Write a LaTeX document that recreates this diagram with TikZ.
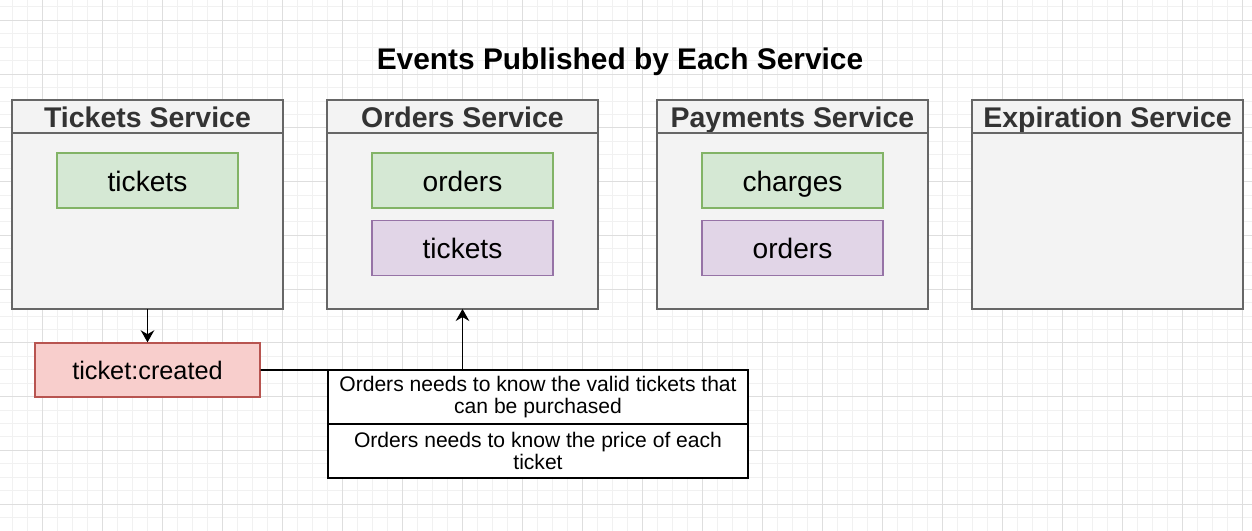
\documentclass[tikz,border=0pt]{standalone}
\usepackage{fontspec}
\setmainfont{Liberation Sans}
\usepackage{xcolor}
\usetikzlibrary{arrows.meta,positioning}
\definecolor{svcfill}{HTML}{F3F3F3}
\definecolor{svcline}{HTML}{666666}
\definecolor{hdrtext}{HTML}{333333}
\definecolor{grfill}{HTML}{D5E8D4}
\definecolor{grline}{HTML}{82B366}
\definecolor{pufill}{HTML}{E1D5E7}
\definecolor{puline}{HTML}{9673A6}
\definecolor{rdfill}{HTML}{F8CECC}
\definecolor{rdline}{HTML}{B85450}
\definecolor{gridlo}{HTML}{F1F1F1}
\definecolor{gridhi}{HTML}{DEDEDE}

\begin{document}
\begin{tikzpicture}[x=0.02cm, y=-0.02cm,
    hdr/.style={rectangle, draw=svcline, fill=svcfill, line width=0.8pt, outer sep=0pt, inner sep=0pt, minimum width=5.42cm, minimum height=0.66cm, text height=14.6pt, text depth=1.6pt, font=\fontsize{16.2}{19}\selectfont\bfseries, text=hdrtext},
    body/.style={rectangle, draw=svcline, fill=svcfill, line width=0.8pt, outer sep=0pt, minimum width=5.42cm, minimum height=3.52cm},
    coll/.style={rectangle, line width=0.6pt, minimum width=3.62cm, minimum height=1.1cm, text height=14.9pt, text depth=2.5pt, font=\fontsize{16}{19}\selectfont},
    greenbox/.style={coll, draw=grline, fill=grfill},
    purplebox/.style={coll, draw=puline, fill=pufill},
    evt/.style={rectangle, draw=rdline, fill=rdfill, line width=0.8pt, minimum width=4.5cm, minimum height=1.08cm, text height=12.9pt, text depth=2.5pt, font=\fontsize{14.4}{17}\selectfont},
    notecell/.style={rectangle, draw=black, fill=white, line width=0.8pt, outer sep=0pt, minimum width=8.4cm, minimum height=1.08cm, align=center, font=\fontsize{12}{12.2}\selectfont},
    arr/.style={-{Stealth[length=0.24cm, width=0.27cm]}, line width=1.1pt}
]
    % Background grid
    \useasboundingbox (0,0) rectangle (1252,531);
    \fill[white] (0,0) rectangle (1252,531);
    \foreach \gx in {0,...,82}
        \draw[gridlo, line width=0.4pt] ({12.7+15*\gx},0) -- ({12.7+15*\gx},531);
    \foreach \gy in {0,...,39}
        \draw[gridlo, line width=0.4pt] (0,{6.8+13.4375*\gy}) -- (1252,{6.8+13.4375*\gy});
    \foreach \gx in {0,...,20}
        \draw[gridhi, line width=0.5pt] ({42.7+60*\gx},0) -- ({42.7+60*\gx},531);
    \foreach \gy in {0,...,9}
        \draw[gridhi, line width=0.5pt] (0,{20.25+53.75*\gy}) -- (1252,{20.25+53.75*\gy});

    % Title
    \node[font=\fontsize{17}{20}\selectfont\bfseries] (title) at (620,62) {Events Published by Each Service};

    % Services
    \node[hdr] (tixhdr) at (147.5,116.5) {Tickets Service};
    \node[body, below=0pt of tixhdr] (tixbody) {};
    \node[hdr] (ordhdr) at (462.5,116.5) {Orders Service};
    \node[body, below=0pt of ordhdr] (ordbody) {};
    \node[hdr] (payhdr) at (792.5,116.5) {Payments Service};
    \node[body, below=0pt of payhdr] (paybody) {};
    \node[hdr] (exphdr) at (1107.5,116.5) {Expiration Service};
    \node[body, below=0pt of exphdr] (expbody) {};

    % Collections
    \node[greenbox] (tixtickets) at (147.5,180.5) {tickets};
    \node[greenbox] (ordorders) at (462.5,180.5) {orders};
    \node[purplebox] (ordtickets) at (462.5,248) {tickets};
    \node[greenbox] (paycharges) at (792.5,180.5) {charges};
    \node[purplebox] (payorders) at (792.5,248) {orders};

    % Event and notes
    \node[evt] (created) at (147.5,370) {ticket:created};
    \node[notecell] (note1) at (538,397) {Orders needs to know the valid tickets that\\can be purchased};
    \node[notecell, below=0pt of note1] (note2) {Orders needs to know the price of each\\ticket};

    % Links
    \draw[arr] (tixbody) -- (created);
    \draw[line width=1.1pt] (created.east) -- (note1.north west);
    \draw[arr] (ordbody.south |- note1.north) -- (ordbody.south);
\end{tikzpicture}
\end{document}
